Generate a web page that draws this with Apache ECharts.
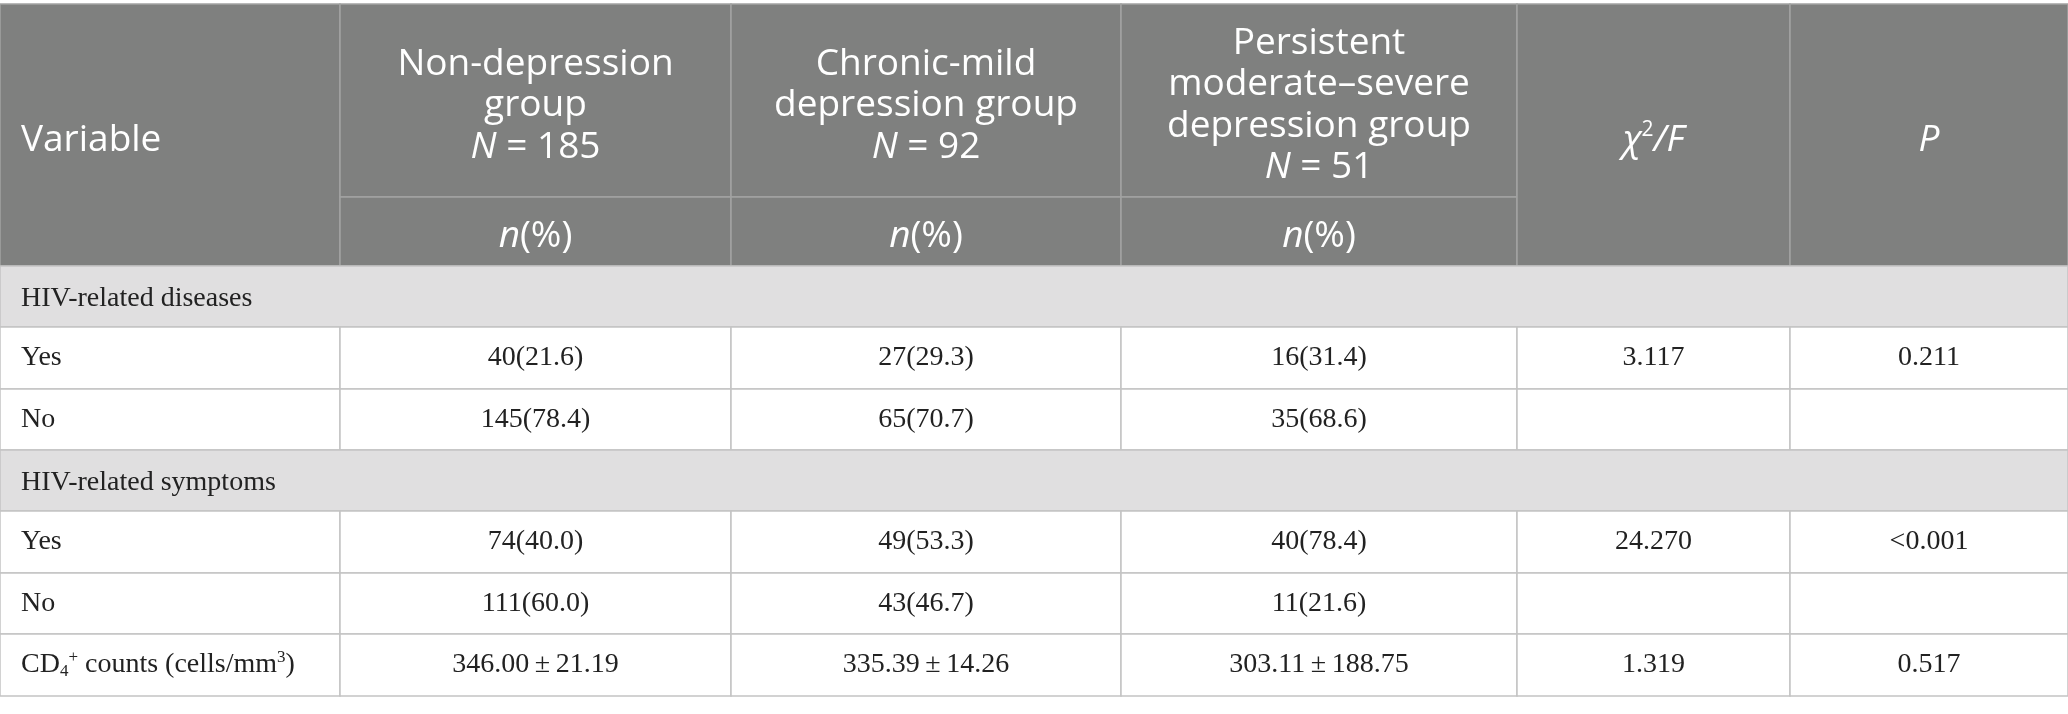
<!DOCTYPE html>
<html>
<head>
<meta charset="utf-8">
<script src="https://cdn.jsdelivr.net/npm/echarts@6/dist/echarts.min.js"></script>
<style>
  html, body { margin: 0; padding: 0; background: #fff; }
  #chart { width: 2068px; height: 714px; }
</style>
</head>
<body>
<div id="chart"></div>
<script>
// header texts
const firstHeader = 'Variable';
const groupHeaders = [
  'Non-depression\ngroup\n{i|N} = 185',
  'Chronic-mild\ndepression group\n{i|N} = 92',
  'Persistent\nmoderate\u2013severe\ndepression group\n{i|N} = 51'
];
const subHeaders = ['{i|n}(%)', '{i|n}(%)', '{i|n}(%)'];
const statHeaders = ['{i|\u03c7}{sup|2}{i|/F}', '{i|P}'];

// body rows
const variables = [
  'HIV-related diseases',
  'Yes',
  'No',
  'HIV-related symptoms',
  'Yes',
  'No',
  'CD{sub|4}{sup|+} counts (cells/mm{sup|3})'
];
const isSection = [true, false, false, true, false, false, false];
const nonDepression = ['', '40(21.6)', '145(78.4)', '', '74(40.0)', '111(60.0)', '346.00\u2009\u00b1\u200921.19'];
const chronicMild = ['', '27(29.3)', '65(70.7)', '', '49(53.3)', '43(46.7)', '335.39\u2009\u00b1\u200914.26'];
const persistentSevere = ['', '16(31.4)', '35(68.6)', '', '40(78.4)', '11(21.6)', '303.11\u2009\u00b1\u2009188.75'];
const chiF = ['', '3.117', '', '', '24.270', '', '1.319'];
const pValues = ['', '0.211', '', '', '<0.001', '', '0.517'];

// layout (pixel edges of the table grid)
const W = 2068, H = 714;
const colEdges = [0, 340, 731, 1121, 1517, 1790, 2068];
const rowEdges = [4, 197, 266, 327, 389, 450, 511, 573, 634, 696];

const HEAD_BG = '#7f807f';
const HEAD_LINE = '#a2a3a2';
const SECTION_BG = '#e0dfe0';
const BODY_LINE = '#c4c4c4';

const headFont = '"Open Sans", sans-serif';
const bodyFont = '"Liberation Serif", "Times New Roman", serif';
const HEAD_SIZE = 37, HEAD_LH = 41.5, BODY_SIZE = 28;

// build cell list: [c0, r0, c1, r1], text, kind
const cells = [];
cells.push({ v: [0, 0, 1, 2], text: firstHeader, kind: 'head', align: 'left' });
groupHeaders.forEach((t, i) => cells.push({ v: [i + 1, 0, i + 2, 1], text: t, kind: 'head', align: 'center' }));
subHeaders.forEach((t, i) => cells.push({ v: [i + 1, 1, i + 2, 2], text: t, kind: 'head', align: 'center' }));
statHeaders.forEach((t, i) => cells.push({ v: [i + 4, 0, i + 5, 2], text: t, kind: 'head', align: 'center' }));

const bodyCols = [nonDepression, chronicMild, persistentSevere, chiF, pValues];
variables.forEach((label, r) => {
  const row = r + 2;
  if (isSection[r]) {
    cells.push({ v: [0, row, 6, row + 1], text: label, kind: 'section', align: 'left' });
  } else {
    cells.push({ v: [0, row, 1, row + 1], text: label, kind: 'body', align: 'left' });
    bodyCols.forEach((col, c) => {
      cells.push({ v: [c + 1, row, c + 2, row + 1], text: col[r], kind: 'body', align: 'center' });
    });
  }
});

const headRich = {
  i: { fontFamily: headFont, fontSize: HEAD_SIZE, fontStyle: 'italic', fill: '#fff', lineHeight: HEAD_LH },
  sup: { fontFamily: headFont, fontSize: 21, fill: '#fff', verticalAlign: 'top', lineHeight: HEAD_LH }
};
const bodyRich = {
  sub: { fontFamily: bodyFont, fontSize: 17, fill: '#222', verticalAlign: 'bottom', lineHeight: 31 },
  sup: { fontFamily: bodyFont, fontSize: 17, fill: '#222', verticalAlign: 'top', lineHeight: 31 }
};

const chart = echarts.init(document.getElementById('chart'));

chart.setOption({
  animation: false,
  backgroundColor: '#fff',
  grid: { left: 0, right: 0, top: 0, bottom: 0 },
  xAxis: { type: 'value', min: 0, max: W, show: false },
  yAxis: { type: 'value', min: 0, max: H, inverse: true, show: false },
  series: [{
    type: 'custom',
    clip: false,
    data: cells.map(c => c.v),
    renderItem: function (params, api) {
      const cell = cells[params.dataIndex];
      const p0 = api.coord([colEdges[api.value(0)], rowEdges[api.value(1)]]);
      const p1 = api.coord([colEdges[api.value(2)], rowEdges[api.value(3)]]);
      const x = p0[0], y = p0[1], w = p1[0] - p0[0], h = p1[1] - p0[1];
      const isHead = cell.kind === 'head';
      const fill = isHead ? HEAD_BG : (cell.kind === 'section' ? SECTION_BG : '#fff');
      const stroke = isHead ? HEAD_LINE : BODY_LINE;
      const tx = cell.align === 'left' ? x + 21 : x + w / 2;
      const dy = isHead ? 5 : (cell.kind === 'section' ? 2 : 0);
      return {
        type: 'group',
        children: [
          {
            type: 'rect',
            shape: { x: x, y: y, width: w, height: h },
            style: { fill: fill, stroke: stroke, lineWidth: 1.5 }
          },
          {
            type: 'text',
            style: {
              text: cell.text,
              x: tx,
              y: y + h / 2 + dy,
              align: cell.align,
              verticalAlign: 'middle',
              fontFamily: isHead ? headFont : bodyFont,
              fontSize: isHead ? HEAD_SIZE : BODY_SIZE,
              lineHeight: isHead ? HEAD_LH : 31,
              fill: isHead ? '#fff' : '#222',
              rich: isHead ? headRich : bodyRich
            }
          }
        ]
      };
    }
  }]
});
</script>
</body>
</html>
